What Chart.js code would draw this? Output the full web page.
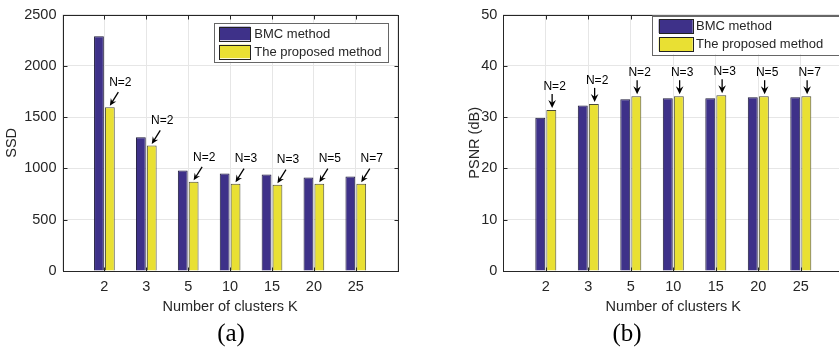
<!DOCTYPE html>
<html>
<head>
<meta charset="utf-8">
<script src="https://cdn.jsdelivr.net/npm/chart.js@4/dist/chart.umd.min.js"></script>
<style>
html,body{margin:0;padding:0;background:#fff;overflow:hidden;}
#wrap{position:relative;width:839px;height:348px;overflow:hidden;background:#fff;}
canvas{position:absolute;top:0;}
#ca{left:0;}
#cb{left:463px;}
.cap{position:absolute;top:320px;width:100px;text-align:center;font-family:'Liberation Serif','Times New Roman',serif;font-size:25px;line-height:25px;color:#000;}
</style>
</head>
<body>
<div id="wrap">
  <canvas id="ca" width="420" height="348"></canvas>
  <canvas id="cb" width="400" height="348"></canvas>
  <div class="cap" style="left:181px;">(a)</div>
  <div class="cap" style="left:577px;">(b)</div>
</div>
<script>
// ---- data ----
const categories = ['2', '3', '5', '10', '15', '20', '25'];
const seriesNames = ['BMC method', 'The proposed method'];
const ssdBMC = [2290, 1305, 980, 950, 942, 912, 922];
const ssdProposed = [1598, 1225, 870, 852, 842, 852, 852];
const psnrBMC = [29.9, 32.3, 33.5, 33.7, 33.7, 33.9, 33.9];
const psnrProposed = [31.4, 32.6, 34.1, 34.1, 34.3, 34.1, 34.1];
const clusterN = ['N=2', 'N=2', 'N=2', 'N=3', 'N=3', 'N=5', 'N=7'];
const ssdTicks = [0, 500, 1000, 1500, 2000, 2500];
const psnrTicks = [0, 10, 20, 30, 40, 50];
const xTitle = 'Number of clusters K';

// ---- style ----
const FONT = "'Liberation Sans', Arial, Helvetica, sans-serif";
const TXT = '#262626';
const GRID = '#e6e6e6';
const BMC_COLOR = '#3e3189';
const PROP_COLOR = '#e9e033';
Chart.defaults.font.family = FONT;

function drawArrow(ctx, x1, y1, x2, y2, len, half) {
  const a = Math.atan2(y2 - y1, x2 - x1);
  ctx.beginPath();
  ctx.moveTo(x1, y1);
  ctx.lineTo(x2 - Math.cos(a) * len * 0.6, y2 - Math.sin(a) * len * 0.6);
  ctx.stroke();
  const bx = x2 - Math.cos(a) * len, by = y2 - Math.sin(a) * len;
  const nx = -Math.sin(a), ny = Math.cos(a);
  const mx = x2 - Math.cos(a) * len * 0.65, my = y2 - Math.sin(a) * len * 0.65;
  ctx.beginPath();
  ctx.moveTo(x2, y2);
  ctx.lineTo(bx + nx * half, by + ny * half);
  ctx.lineTo(mx, my);
  ctx.lineTo(bx - nx * half, by - ny * half);
  ctx.closePath();
  ctx.fill();
}

function buildChart(id, cfg) {
  const labels = ['', ...categories, ''];
  const pad = arr => [null, ...arr, null];

  const boxPlugin = {
    id: 'matlabBox',
    afterDatasetsDraw(chart) {
      const ctx = chart.ctx;
      const {left, right, top, bottom} = chart.chartArea;
      const ys = chart.scales.y, xs = chart.scales.x;
      ctx.save();
      ctx.strokeStyle = TXT;
      ctx.lineWidth = 1;
      const L = Math.round(left) + 0.5, R = Math.round(right) + 0.5;
      const T = Math.round(top) + 0.5, B = Math.round(bottom) + 0.5;
      ctx.strokeRect(L, T, R - L, B - T);
      ctx.beginPath();
      ys.ticks.forEach((t, i) => {
        const p = Math.round(ys.getPixelForTick(i)) + 0.5;
        ctx.moveTo(L, p); ctx.lineTo(L + 4, p);
        ctx.moveTo(R, p); ctx.lineTo(R - 4, p);
      });
      xs.ticks.forEach((t, i) => {
        const p = Math.round(xs.getPixelForTick(i)) + 0.5;
        ctx.moveTo(p, B); ctx.lineTo(p, B - 4);
        ctx.moveTo(p, T); ctx.lineTo(p, T + 4);
      });
      ctx.stroke();

      // annotations on the proposed-method bars
      const meta = chart.getDatasetMeta(1);
      ctx.fillStyle = '#000';
      ctx.strokeStyle = '#000';
      ctx.lineWidth = 1.3;
      ctx.font = '12px ' + FONT;
      ctx.textAlign = 'center';
      ctx.textBaseline = 'middle';
      meta.data.forEach((el, i) => {
        const txt = clusterN[i - 1];
        if (!txt || el.skip) return;
        const cx = el.x, y = el.y;
        if (cfg.arrow === 'diag') {
          drawArrow(ctx, cx + 8.5, y - 15, cx, y - 1.5, 7, 3.2);
          ctx.fillText(txt, cx + 10.5, y - 24.5);
        } else {
          drawArrow(ctx, cx + 0.8, y - 16, cx + 0.8, y - 2, 8, 3.8);
          ctx.fillText(txt, cx + 3.3, y - 23.5);
        }
      });
      ctx.restore();
    }
  };

  const legendPlugin = {
    id: 'matlabLegend',
    afterDraw(chart) {
      const ctx = chart.ctx;
      const g = cfg.legend;
      ctx.save();
      ctx.fillStyle = '#fff';
      ctx.fillRect(g.x, g.y, g.w, g.h);
      ctx.strokeStyle = '#666';
      ctx.lineWidth = 1;
      ctx.strokeRect(Math.round(g.x) + 0.5, Math.round(g.y) + 0.5, Math.round(g.w), Math.round(g.h));
      ctx.font = '13px ' + FONT;
      ctx.textAlign = 'left';
      ctx.textBaseline = 'middle';
      chart.data.datasets.forEach((ds, i) => {
        const sy = g.sy[i];
        ctx.fillStyle = ds.backgroundColor;
        ctx.fillRect(g.sx, sy, g.sw, g.sh);
        ctx.strokeStyle = '#222';
        ctx.strokeRect(Math.round(g.sx) + 0.5, Math.round(sy) + 0.5, Math.round(g.sw), Math.round(g.sh));
        ctx.fillStyle = TXT;
        ctx.fillText(ds.label, g.tx, sy + g.sh / 2 + 0.5);
      });
      ctx.restore();
    }
  };

  return new Chart(document.getElementById(id), {
    type: 'bar',
    data: {
      labels: labels,
      datasets: [
        {label: seriesNames[0], data: pad(cfg.bmc), backgroundColor: BMC_COLOR, borderColor: '#1d1a3a',
         borderWidth: 1, categoryPercentage: 0.52, barPercentage: 0.9},
        {label: seriesNames[1], data: pad(cfg.prop), backgroundColor: PROP_COLOR, borderColor: '#4a4a3a',
         borderWidth: 1, categoryPercentage: 0.52, barPercentage: 0.9}
      ]
    },
    options: {
      responsive: false,
      animation: false,
      devicePixelRatio: 1,
      layout: {padding: {left: 0, right: cfg.padRight, top: cfg.padTop, bottom: 0}},
      plugins: {legend: {display: false}, tooltip: {enabled: false}},
      scales: {
        x: {
          type: 'category', offset: false,
          grid: {offset: false, color: GRID, drawTicks: false, lineWidth: 1},
          border: {display: false},
          ticks: {autoSkip: false, maxRotation: 0, padding: 7, color: TXT, font: {size: 14.5}},
          title: {display: true, text: xTitle, color: TXT, font: {size: 14.5}, padding: {top: 0, bottom: 32.6}},
          afterFit: s => { s.height = 77; }
        },
        y: {
          min: cfg.ticks[0], max: cfg.ticks[cfg.ticks.length - 1],
          afterBuildTicks: s => { s.ticks = cfg.ticks.map(v => ({value: v})); },
          grid: {color: GRID, drawTicks: false, lineWidth: 1},
          border: {display: false},
          ticks: {padding: 6, color: TXT, font: {size: 14.5}, callback: v => String(v)},
          title: {display: true, text: cfg.yTitle, color: TXT, font: {size: 14.5}, padding: {top: 3, bottom: 0}},
          afterFit: s => { s.width = cfg.yWidth; }
        }
      }
    },
    plugins: [boxPlugin, legendPlugin]
  });
}

buildChart('ca', {
  bmc: ssdBMC, prop: ssdProposed, ticks: ssdTicks, yTitle: 'SSD',
  yWidth: 62.5, padRight: 22.3, padTop: 12.5, arrow: 'diag',
  legend: {x: 213.7, y: 22.7, w: 174, h: 39, sx: 219.3, sw: 31, sh: 13.5, sy: [26.7, 44.7], tx: 254.3}
});
buildChart('cb', {
  bmc: psnrBMC, prop: psnrProposed, ticks: psnrTicks, yTitle: 'PSNR (dB)',
  yWidth: 40.3, padRight: 19.7, padTop: 11.7, arrow: 'down',
  legend: {x: 189.3, y: 15.7, w: 220, h: 38.6, sx: 195.7, sw: 34, sh: 13.7, sy: [19.3, 37.3], tx: 233}
});
</script>
</body>
</html>
